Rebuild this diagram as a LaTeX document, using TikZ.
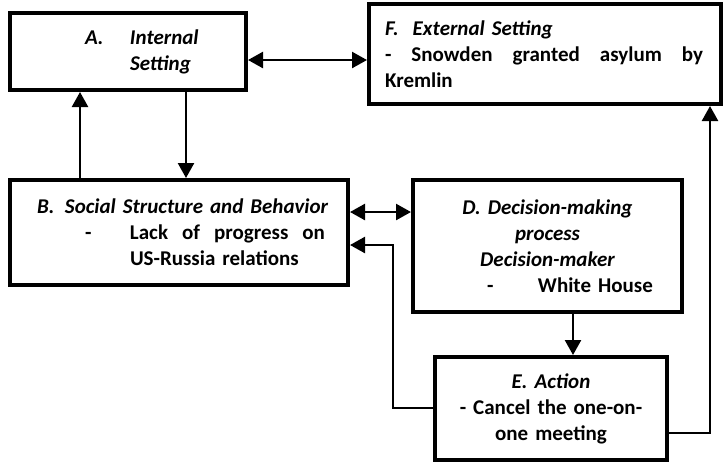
\documentclass[tikz,border=0pt]{standalone}
\usepackage{fontspec}
\setmainfont{Carlito}
\usetikzlibrary{arrows.meta,positioning,calc}
\newcommand{\boxfont}{\fontsize{10.5}{13}\selectfont\bfseries}

\begin{document}
\begin{tikzpicture}[x=0.5pt,y=-0.5pt,font=\boxfont,>={Triangle[length=7.5pt,width=8pt]},
  box/.style={draw,line width=2pt,inner xsep=0pt,inner ysep=0pt},
  lbox/.style={box,align=left},
  cbox/.style={box,align=center},
  link/.style={line width=1.2pt}]
  \useasboundingbox (0,0) rectangle (727,463);
  \node[lbox,font=\boxfont\itshape,text width=118pt,minimum height=38.5pt] (A) at (128,51.5)
    {\hspace*{37.5pt}\makebox[22.5pt][l]{A.}Internal\\\hspace*{60pt}Setting};
  \node[lbox,text width=176pt,minimum height=50pt] (F) at (545,54)
    {\hspace*{8pt}{\itshape F.\ \ External Setting}\\
     \hspace*{8pt}\makebox[159pt][l]{-\hfill Snowden\hfill granted\hfill asylum\hfill by}\\
     \hspace*{8pt}Kremlin};
  \node[lbox,text width=169pt,minimum height=52.5pt] (B) at (179,232.5)
    {\hspace*{13.5pt}{\itshape\makebox[14pt][l]{B.}Social Structure and Behavior}\\
     \hspace*{37.5pt}\makebox[22.5pt][l]{-}\makebox[97.5pt][l]{Lack\hfill of\hfill progress\hfill on}\\
     \hspace*{60pt}US-Russia relations};
  \node[cbox,text width=134.5pt,minimum height=66pt] (D) at (547.5,246)
    {{\itshape D. Decision-making}\\{\itshape process}\\{\itshape Decision-maker}\\
     \makebox[134.5pt][l]{\hspace*{37pt}\makebox[25.5pt][l]{-}White House}};
  \node[cbox,text width=116pt,minimum height=51.5pt] (E) at (551,408.5)
    {{\itshape E. Action}\\- Cancel the one-on-\\one meeting};

  \draw[link,<->] (A.east |- 0,60) -- (F.west |- 0,60);
  \draw[link,->] (B.north -| 80,0) -- (A.south -| 80,0);
  \draw[link,->] (A.south -| 186,0) -- (B.north -| 186,0);
  \draw[link,<->] (B.east |- 0,212) -- (D.west |- 0,212);
  \draw[link,->] (D.south -| 573,0) -- (E.north -| 573,0);
  \draw[link,->] (E.west |- 0,408) -- (393,408) |- (B.east |- 0,245);
  \draw[link,->] (E.east |- 0,433) -| (F.south -| 710,0);
\end{tikzpicture}
\end{document}
